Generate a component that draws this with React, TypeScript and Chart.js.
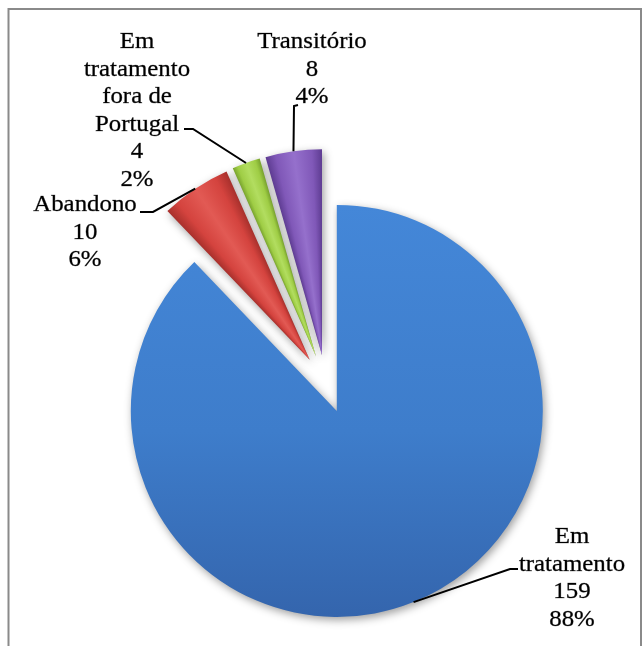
import React, { useEffect, useRef } from "react";
import { Chart, registerables } from "chart.js";

Chart.register(...registerables);

// ---- data ----
const CATEGORIES = ["Em tratamento", "Abandono", "Em tratamento fora de Portugal", "Transitório"];
const CATEGORY_LINES = [["Em", "tratamento"], ["Abandono"], ["Em", "tratamento", "fora de", "Portugal"], ["Transitório"]];
const VALUES = [159, 10, 4, 8];

// ---- style ----
const BASE_COLORS = ["#3e7dcb", "#d4433e", "#9fcd45", "#8058b8"];
const DARK_COLORS = ["#3465ad", "#a8302c", "#78a32e", "#5e3c92"];
const LIGHT_COLORS = ["#4487d8", "#e25a54", "#b2dd60", "#9570cc"];
const RADIUS = 206;
const EXPLODE = 29;
const FONT = "23px 'Liberation Serif', 'Times New Roman', serif";
const LINE_H = 27.5;
const STRETCH = 1.08;

// label layout: center x, first line center y, leader points from label toward slice
const LABEL_LAYOUT = [
  { x: 572, y: 537, leader: [[518, 569], [510, 569]] },
  { x: 85, y: 205, leader: [[140, 212], [153, 212]] },
  { x: 137, y: 42, leader: [[184, 129], [193, 129]] },
  { x: 312, y: 42, leader: [[298, 105], [294, 106]] },
];

const TOTAL = VALUES.reduce((a, b) => a + b, 0);

function sliceAngles(i: number) {
  let cum = 0;
  for (let k = 0; k < i; k++) cum += VALUES[k];
  const a0 = -Math.PI / 2 + (cum / TOTAL) * Math.PI * 2;
  const a1 = a0 + (VALUES[i] / TOTAL) * Math.PI * 2;
  return [a0, a1];
}

const framePlugin = {
  id: "frame",
  beforeDraw(chart: any) {
    const ctx = chart.ctx;
    ctx.save();
    ctx.strokeStyle = "#8a8a8a";
    ctx.lineWidth = 2;
    ctx.beginPath();
    ctx.moveTo(8.5, 700);
    ctx.lineTo(8.5, 9);
    ctx.lineTo(641, 9);
    ctx.lineTo(641, 700);
    ctx.stroke();
    ctx.restore();
  },
};

const explodePlugin = {
  id: "explode",
  beforeDatasetDraw(chart: any, args: any) {
    const ctx = chart.ctx;
    args.meta.data.forEach((arc: any) => {
      const { startAngle, endAngle } = arc.getProps(["startAngle", "endAngle"], true);
      const mid = (startAngle + endAngle) / 2;
      ctx.save();
      ctx.translate(Math.cos(mid) * EXPLODE, Math.sin(mid) * EXPLODE);
      ctx.shadowColor = "rgba(0,0,0,0.38)";
      ctx.shadowBlur = 9;
      ctx.shadowOffsetX = 2;
      ctx.shadowOffsetY = 3;
      arc.draw(ctx);
      ctx.restore();
    });
    return false;
  },
};

const labelPlugin = {
  id: "labels",
  afterDraw(chart: any) {
    const ctx = chart.ctx;
    const meta = chart.getDatasetMeta(0);
    ctx.save();
    ctx.font = FONT;
    ctx.fillStyle = "#000";
    ctx.textAlign = "center";
    ctx.textBaseline = "middle";
    meta.data.forEach((arc: any, i: number) => {
      const { x, y, startAngle, endAngle, outerRadius } = arc.getProps(["x", "y", "startAngle", "endAngle", "outerRadius"], true);
      const mid = (startAngle + endAngle) / 2;
      const ax = x + Math.cos(mid) * (EXPLODE + outerRadius);
      const ay = y + Math.sin(mid) * (EXPLODE + outerRadius);
      const lay = LABEL_LAYOUT[i];
      const pct = Math.round((VALUES[i] / TOTAL) * 100) + "%";
      const lines = [...CATEGORY_LINES[i], String(VALUES[i]), pct];
      lines.forEach((t, k) => {
        ctx.save();
        ctx.translate(lay.x, lay.y + k * LINE_H);
        ctx.scale(STRETCH, 1);
        ctx.strokeStyle = "rgba(0,0,0,0.55)";
        ctx.lineWidth = 0.5;
        ctx.fillText(t, 0, 0);
        ctx.strokeText(t, 0, 0);
        ctx.restore();
      });
      ctx.strokeStyle = "#000";
      ctx.lineWidth = 2;
      ctx.beginPath();
      ctx.moveTo(lay.leader[0][0], lay.leader[0][1]);
      for (let k = 1; k < lay.leader.length; k++) ctx.lineTo(lay.leader[k][0], lay.leader[k][1]);
      ctx.lineTo(ax, ay);
      ctx.stroke();
    });
    ctx.restore();
  },
};

export default function App() {
  const ref = useRef<HTMLCanvasElement>(null);
  useEffect(() => {
    if (!ref.current) return;
    const chart = new Chart(ref.current, {
      type: "pie",
      data: {
        labels: CATEGORIES,
        datasets: [
          {
            data: VALUES,
            borderWidth: 0,
            backgroundColor: (c: any) => {
              const i = c.dataIndex;
              const chart = c.chart;
              const area = chart.chartArea;
              if (!area) return BASE_COLORS[i];
              const cx = (area.left + area.right) / 2;
              const cy = (area.top + area.bottom) / 2;
              const g = chart.ctx;
              if (i === 0) {
                const lg = g.createLinearGradient(cx, cy - RADIUS, cx, cy + RADIUS);
                lg.addColorStop(0, LIGHT_COLORS[0]);
                lg.addColorStop(0.55, BASE_COLORS[0]);
                lg.addColorStop(1, DARK_COLORS[0]);
                return lg;
              }
              const [a0, a1] = sliceAngles(i);
              const s = (a1 - a0) / (Math.PI * 2);
              const cg = g.createConicGradient(a0, cx, cy);
              cg.addColorStop(0, DARK_COLORS[i]);
              cg.addColorStop(s * 0.18, BASE_COLORS[i]);
              cg.addColorStop(s * 0.5, LIGHT_COLORS[i]);
              cg.addColorStop(s * 0.82, BASE_COLORS[i]);
              cg.addColorStop(s, DARK_COLORS[i]);
              cg.addColorStop(1, DARK_COLORS[i]);
              return cg;
            },
          },
        ],
      },
      options: {
        animation: false,
        responsive: false,
        devicePixelRatio: 1,
        radius: RADIUS,
        layout: { padding: { left: 20, right: 11, top: 130, bottom: 8 } },
        plugins: { legend: { display: false }, tooltip: { enabled: false } },
      } as any,
      plugins: [framePlugin, explodePlugin, labelPlugin],
    });
    return () => chart.destroy();
  }, []);
  return (
    <div style={{ position: "fixed", left: 0, top: 0, width: 643, height: 646, background: "#fff" }}>
      <canvas ref={ref} width={643} height={646} style={{ width: 643, height: 646, display: "block" }} />
    </div>
  );
}
